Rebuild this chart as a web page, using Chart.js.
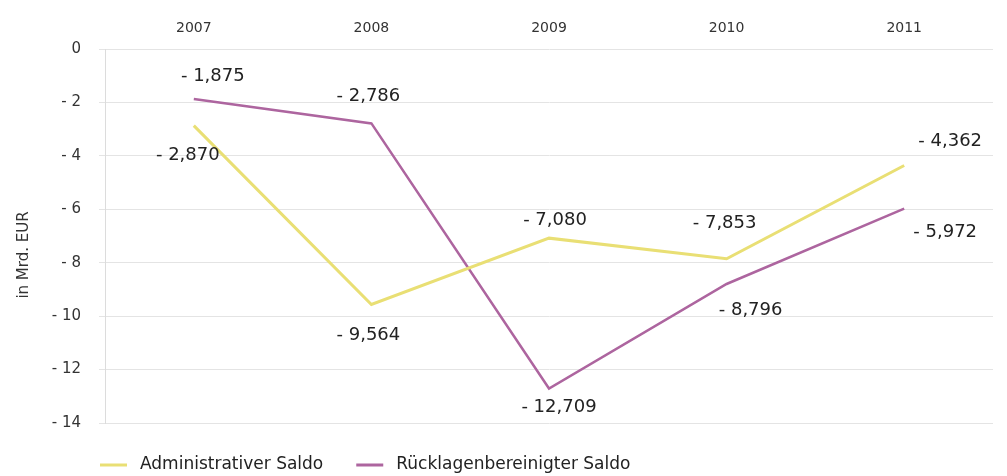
<!DOCTYPE html>
<html>
<head>
<meta charset="utf-8">
<script src="https://cdn.jsdelivr.net/npm/chart.js@4/dist/chart.umd.min.js"></script>
<style>
  html, body { margin: 0; padding: 0; background: #fff; }
  #wrap { width: 1007px; height: 476px; }
</style>
</head>
<body>
<div id="wrap"><canvas id="lineChart" width="1007" height="476"></canvas></div>
<script>
// data (Mrd. EUR)
const years = ['2007', '2008', '2009', '2010', '2011'];
const adminSaldo = [-2.870, -9.564, -7.080, -7.853, -4.362];
const ruecklagenSaldo = [-1.875, -2.786, -12.709, -8.796, -5.972];
const yTicks = [0, -2, -4, -6, -8, -10, -12, -14];
const yTitle = 'in Mrd. EUR';

// where each value label sits relative to its point
const adminLabelPos = [[-6, 30], [-3, 31], [6, -18], [-2, -35], [46, -24]];
const ruecklagenLabelPos = [[19, -23], [-3, -27], [10, 19], [24, 26], [41, 24]];

const yellow = '#e9df74';
const purple = '#ad659f';
const fontName = '"DejaVu Sans", sans-serif';

function fmt(v) {
    // "- 1,875" style with German decimal comma
    const s = Math.abs(v).toFixed(3).replace('.', ',');
    return (v < 0 ? '- ' : '') + s;
}

function fmtTick(v) {
    return v < 0 ? '- ' + Math.abs(v) : String(v);
}

// draws the numbers next to the points
const valueLabels = {
    id: 'valueLabels',
    afterDatasetsDraw(chart) {
        const ctx = chart.ctx;
        ctx.save();
        ctx.font = '18px ' + fontName;
        ctx.fillStyle = '#222';
        ctx.textAlign = 'center';
        ctx.textBaseline = 'middle';
        chart.data.datasets.forEach((ds, i) => {
            const meta = chart.getDatasetMeta(i);
            meta.data.forEach((pt, j) => {
                const off = ds.labelPos[j];
                ctx.fillText(fmt(ds.data[j]), pt.x + off[0], pt.y + off[1]);
            });
        });
        ctx.restore();
    }
};

// legend at the bottom left plus the y title (sits a bit below the middle)
const extras = {
    id: 'extras',
    afterDraw(chart) {
        const ctx = chart.ctx;
        ctx.save();
        ctx.font = '17px ' + fontName;
        ctx.textBaseline = 'middle';
        let x = 100;
        const y = 465;
        chart.data.datasets.forEach(ds => {
            ctx.strokeStyle = ds.borderColor;
            ctx.lineWidth = 3;
            ctx.beginPath();
            ctx.moveTo(x, y);
            ctx.lineTo(x + 27, y);
            ctx.stroke();
            ctx.fillStyle = '#222';
            ctx.fillText(ds.label, x + 40, y);
            x += 40 + ctx.measureText(ds.label).width + 33;
        });

        ctx.translate(24, 255);
        ctx.rotate(-Math.PI / 2);
        ctx.font = '15px ' + fontName;
        ctx.textAlign = 'center';
        ctx.fillStyle = '#333';
        ctx.fillText(yTitle, 0, 0);
        ctx.restore();
    }
};

const lineCtx = document.getElementById('lineChart').getContext('2d');

const lineChart = new Chart(lineCtx, {
    type: 'line',
    data: {
        labels: years,
        datasets: [
            {
                label: 'Administrativer Saldo',
                data: adminSaldo,
                labelPos: adminLabelPos,
                borderColor: yellow,
                backgroundColor: yellow,
                borderWidth: 3,
                pointRadius: 0,
                tension: 0,
                fill: false
            },
            {
                label: 'Rücklagenbereinigter Saldo',
                data: ruecklagenSaldo,
                labelPos: ruecklagenLabelPos,
                borderColor: purple,
                backgroundColor: purple,
                borderWidth: 2.5,
                pointRadius: 0,
                tension: 0,
                fill: false
            }
        ]
    },
    options: {
        responsive: false,
        animation: false,
        layout: { padding: { top: 0, right: 14, bottom: 53, left: 0 } },
        plugins: {
            legend: { display: false },
            tooltip: { enabled: false }
        },
        scales: {
            x: {
                position: 'top',
                offset: true,
                afterFit(scale) { scale.height = 49; },
                grid: { display: false },
                border: { display: false },
                ticks: {
                    color: '#333',
                    padding: 4,
                    font: { family: fontName, size: 14 }
                }
            },
            y: {
                min: -14,
                max: 0,
                afterFit(scale) { scale.width = 105; },
                afterBuildTicks(scale) { scale.ticks = yTicks.map(v => ({ value: v })); },
                grid: { color: '#e4e4e4', tickLength: 6, lineWidth: 1 },
                border: { color: '#dcdcdc' },
                ticks: {
                    color: '#333',
                    padding: 18,
                    font: { family: fontName, size: 15 },
                    callback: v => fmtTick(v)
                }
            }
        }
    },
    plugins: [valueLabels, extras]
});
</script>
</body>
</html>
